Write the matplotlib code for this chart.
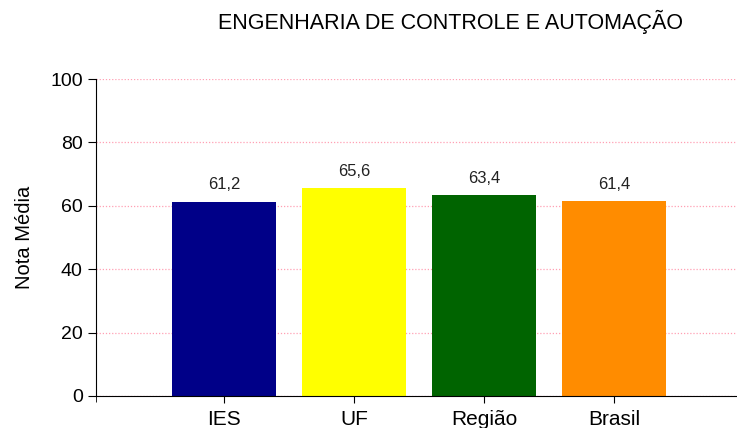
import matplotlib.pyplot as plt

plt.rcParams['font.family'] = ['Liberation Sans', 'DejaVu Sans']

categorias = ['IES', 'UF', 'Região', 'Brasil']
notas = [61.2, 65.6, 63.4, 61.4]
cores = ['#000088', '#ffff00', '#006400', '#ff8c00']
yticks = [0, 20, 40, 60, 80, 100]

fig = plt.figure(figsize=(7.37, 4.28), dpi=100)
ax = fig.add_axes([96 / 737, 32 / 428, 1 - 96 / 737, (396 - 79) / 428])

x = range(len(categorias))
ax.bar(x, notas, width=0.8, color=cores, zorder=2)
for xi, v in zip(x, notas):
    ax.text(xi, v + 3, f'{v:.1f}'.replace('.', ','), ha='center', va='bottom',
            fontsize=12, color='#222222')

xmin = -0.985
ax.set_xlim(xmin, 3.946)
ax.set_ylim(0, 100)
ax.set_yticks(yticks)
ax.set_xticks(list(x))
ax.set_xticks([xmin], minor=True)
ax.set_xticklabels(categorias, fontsize=15)
ax.tick_params(axis='y', labelsize=14, length=6, direction='out')
ax.tick_params(axis='x', length=5, direction='out', pad=5)
ax.tick_params(axis='x', which='minor', length=4, direction='out')
ax.yaxis.grid(True, color='#ffa0b4', linestyle=(0, (1, 1.5)), linewidth=0.9, zorder=0)
ax.spines['top'].set_visible(False)
ax.spines['right'].set_visible(False)
ax.set_ylabel('Nota Média', fontsize=14.5, labelpad=12)

fig.text(451 / 737, 1 - 22 / 428, 'ENGENHARIA DE CONTROLE E AUTOMAÇÃO',
         ha='center', va='center', fontsize=15.5)

fig.savefig('out.png', dpi=100)
